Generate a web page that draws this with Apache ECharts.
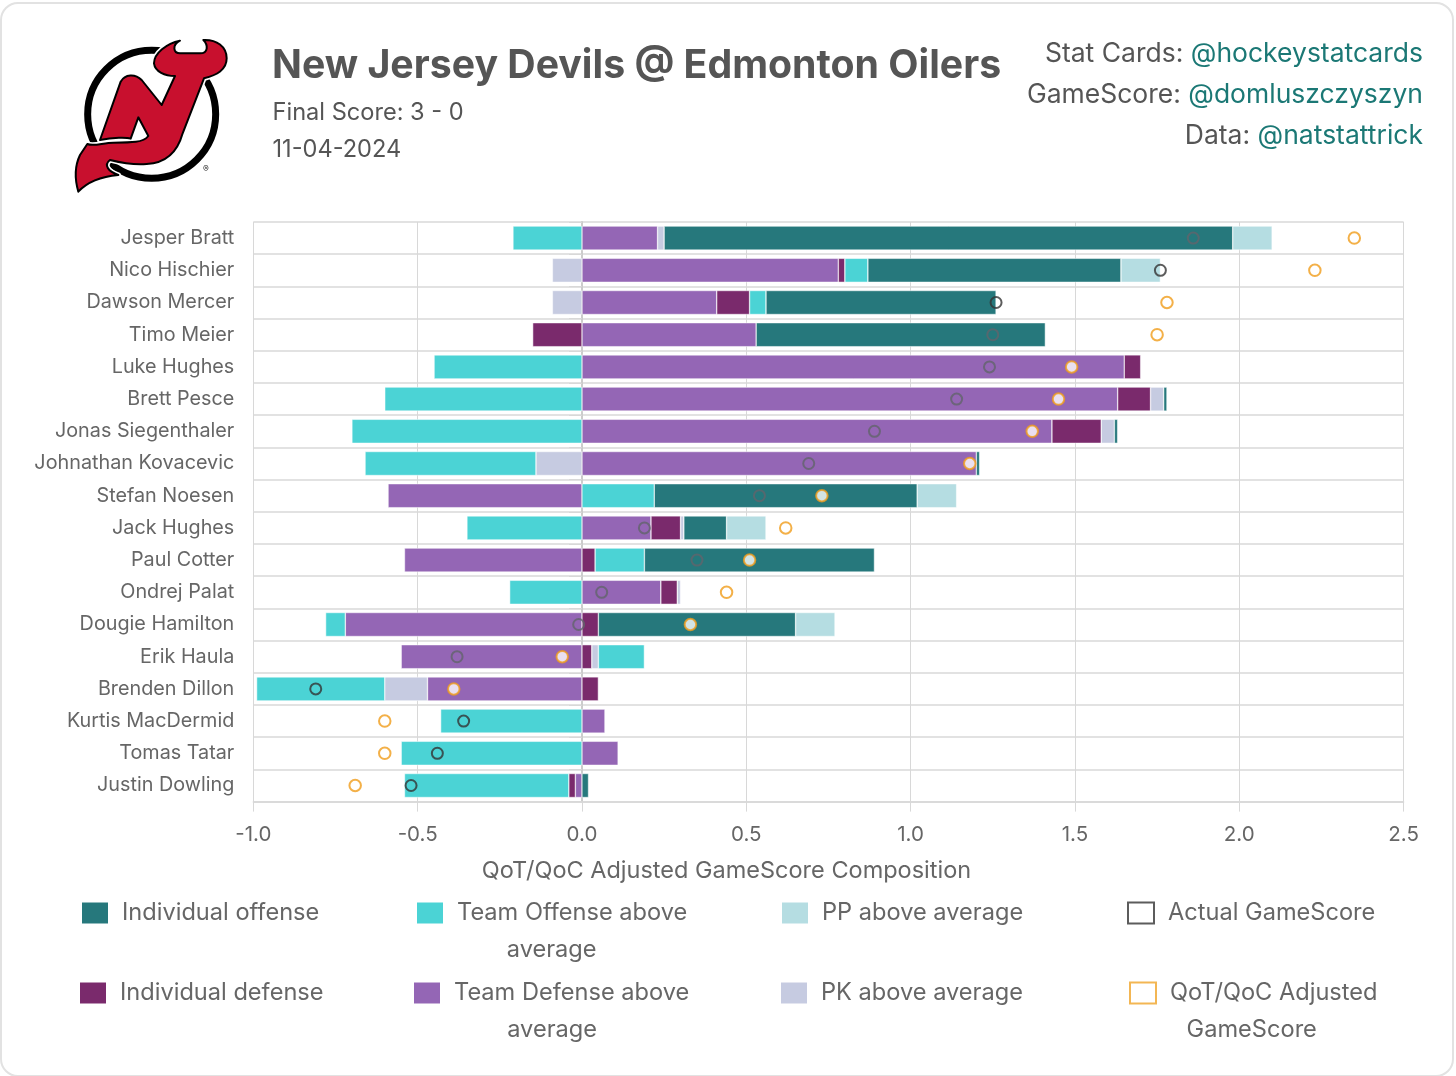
<!DOCTYPE html>
<html lang="en">

<head>
	<title>New Jersey Devils @ Edmonton Oilers</title>
	<meta charset="UTF-8" />
	<script src="https://cdn.jsdelivr.net/npm/echarts@6/dist/echarts.min.js"></script>

	<style type="text/css">
		html, body {
			margin: 0;
			padding: 0;
			width: 1456px;
			height: 1076px;
			overflow: hidden;
			background-color: #ffffff;
			font-family: Inter, sans-serif;
			color: #555555;
		}

		#card {
			position: absolute;
			left: 0;
			top: 2px;
			width: 1450px;
			height: 1071px;
			border: 2px solid #e2e2e2;
			border-radius: 18px;
		}

		#chart {
			position: absolute;
			left: 0;
			top: 0;
			width: 1456px;
			height: 1076px;
		}

		#logo {
			position: absolute;
			left: 0;
			top: 0;
		}

		#title {
			position: absolute;
			left: 272px;
			top: 39px;
			font-size: 39.25px;
			line-height: 50px;
			font-weight: 700;
			white-space: nowrap;
		}

		.sub {
			position: absolute;
			left: 272.5px;
			font-size: 23.6px;
			line-height: 30px;
			white-space: nowrap;
		}

		.credit {
			position: absolute;
			right: 33px;
			font-size: 26.5px;
			line-height: 34px;
			white-space: nowrap;
		}

		.credit span {
			color: #1b7875;
		}
	</style>
</head>

<body>
	<div id="card"></div>
	<div id="chart"></div>

	<!-- logo -->
	<svg id="logo" width="300" height="210" viewBox="0 0 900 630">
		<defs>
			<path id="devil" d="M540 122 C500 130 462 160 462 190 C465 215 495 228 525 228 L485 315 L425 240 C405 220 375 222 362 245 L300 420 C340 412 380 412 392 416 L415 352 L445 408 C430 428 395 428 340 428 C310 428 280 440 262 432 L240 465 C228 490 222 530 235 575 C260 548 300 530 355 525 C325 515 310 495 330 480 C370 490 405 495 440 492 C490 490 530 465 548 400 L612 235 C650 225 680 210 680 175 C680 140 650 118 610 120 C625 135 625 160 600 160 L540 160 C520 160 515 135 540 122 Z" />
		</defs>
		<circle cx="455" cy="343" r="192" fill="#ffffff" stroke="#000000" stroke-width="21" />
		<use href="#devil" fill="#c8102e" stroke="#ffffff" stroke-width="16" stroke-linejoin="round" />
		<use href="#devil" fill="#c8102e" stroke="#000000" stroke-width="6" stroke-linejoin="round" />
		<text x="618" y="517" font-size="26" text-anchor="middle" fill="#222222">®</text>
	</svg>

	<!-- header -->
	<div id="title">New Jersey Devils @ Edmonton Oilers</div>
	<div class="sub" style="top: 97px;">Final Score: 3 - 0</div>
	<div class="sub" style="top: 134px;">11-04-2024</div>
	<div class="credit" style="top: 35px;">Stat Cards: <span>@hockeystatcards</span></div>
	<div class="credit" style="top: 76px;">GameScore: <span>@domluszczyszyn</span></div>
	<div class="credit" style="top: 117px;">Data: <span>@natstattrick</span></div>

	<script>
		const players = ['Jesper Bratt', 'Nico Hischier', 'Dawson Mercer', 'Timo Meier', 'Luke Hughes', 'Brett Pesce',
			'Jonas Siegenthaler', 'Johnathan Kovacevic', 'Stefan Noesen', 'Jack Hughes', 'Paul Cotter', 'Ondrej Palat',
			'Dougie Hamilton', 'Erik Haula', 'Brenden Dillon', 'Kurtis MacDermid', 'Tomas Tatar', 'Justin Dowling'];

		const teamDefense = [0.23, 0.78, 0.41, 0.53, 1.65, 1.63, 1.43, 1.20, -0.59, 0.21, -0.54, 0.24, -0.72, -0.55, -0.47, 0.07, 0.11, -0.02];
		const individualDefense = [null, 0.02, 0.10, -0.15, 0.05, 0.10, 0.15, null, null, 0.09, 0.04, 0.05, 0.05, 0.03, 0.05, null, null, -0.02];
		const pkAboveAverage = [0.02, -0.09, -0.09, null, null, 0.04, 0.04, -0.14, null, 0.01, null, 0.01, null, 0.02, -0.13, null, null, null];
		const teamOffense = [-0.21, 0.07, 0.05, null, -0.45, -0.60, -0.70, -0.52, 0.22, -0.35, 0.15, -0.22, -0.06, 0.14, -0.39, -0.43, -0.55, -0.50];
		const individualOffense = [1.73, 0.77, 0.70, 0.88, null, 0.01, 0.01, 0.01, 0.80, 0.13, 0.70, null, 0.60, null, null, null, null, 0.02];
		const ppAboveAverage = [0.12, 0.12, null, null, null, null, null, null, 0.12, 0.12, null, null, 0.12, null, null, null, null, null];
		const actualGameScore = [1.86, 1.76, 1.26, 1.25, 1.24, 1.14, 0.89, 0.69, 0.54, 0.19, 0.35, 0.06, -0.01, -0.38, -0.81, -0.36, -0.44, -0.52];
		const adjustedGameScore = [2.35, 2.23, 1.78, 1.75, 1.49, 1.45, 1.37, 1.18, 0.73, 0.62, 0.51, 0.44, 0.33, -0.06, -0.39, -0.60, -0.60, -0.69];

		const axisColor = '#666666';
		const gridColor = '#d8d8d8';
		const legendFont = 23.6;
		const legendLine = 37;

		// 堆疊順序: 由 0 往外
		const stackOrder = [
			{ name: 'Team Defense above average', values: teamDefense, color: '#9466b5' },
			{ name: 'Individual defense', values: individualDefense, color: '#7a2a6c' },
			{ name: 'PK above average', values: pkAboveAverage, color: '#c6cbe1' },
			{ name: 'Team Offense above average', values: teamOffense, color: '#4bd3d5' },
			{ name: 'Individual offense', values: individualOffense, color: '#26787c' },
			{ name: 'PP above average', values: ppAboveAverage, color: '#b5dde2' }
		];

		// actual 圈圈壓在長條上時顏色較淡 (cyan 除外)
		function actualColor(i) {
			let pos = 0, neg = 0, dim = false;
			stackOrder.forEach((s) => {
				const v = s.values[i];
				if (v === null) return;
				const from = v > 0 ? pos : neg;
				const to = from + v;
				if (actualGameScore[i] > Math.min(from, to) + 0.001 && actualGameScore[i] < Math.max(from, to) - 0.001) {
					dim = s.values !== teamOffense;
				}
				if (v > 0) pos = to; else neg = to;
			});
			return dim ? '#62646c' : '#333333';
		}

		const barSeries = stackOrder.map((s) => ({
			name: s.name,
			type: 'bar',
			stack: 'composition',
			barWidth: 24,
			data: s.values,
			itemStyle: { color: s.color, borderColor: '#ffffff', borderWidth: 0.5 }
		}));

		function legendItem(name, left, top, color, text, second, secondPad, border) {
			const padLeft = 9;
			return {
				data: [{
					name: name,
					icon: 'rect',
					itemStyle: border ? { color: '#ffffff', borderColor: border, borderWidth: 2 } : { color: color, borderWidth: 0 }
				}],
				left: left,
				top: top,
				padding: 0,
				itemWidth: 26,
				itemHeight: 21,
				selectedMode: false,
				formatter: () => second ? `{a|${text}}\n{b|${second}}` : `{a|${text}}`,
				textStyle: {
					color: axisColor,
					rich: {
						a: { fontFamily: 'Inter', fontSize: legendFont, color: axisColor, lineHeight: legendLine, padding: [0, 0, 0, padLeft] },
						b: { fontFamily: 'Inter', fontSize: legendFont, color: axisColor, lineHeight: legendLine, align: 'center', padding: [0, secondPad, 0, 0] }
					},
					padding: second ? [legendLine, 0, 0, 0] : 0
				}
			};
		}

		const chart = echarts.init(document.getElementById('chart'));

		chart.setOption({
			animation: false,
			textStyle: { fontFamily: 'Inter' },
			grid: { left: 253.3, top: 222, right: 52.4, height: 579.6 },
			xAxis: {
				type: 'value',
				min: -1,
				max: 2.5,
				interval: 0.5,
				name: 'QoT/QoC Adjusted GameScore Composition',
				nameLocation: 'middle',
				nameGap: 57,
				nameTextStyle: { fontFamily: 'Inter', fontSize: 23.5, color: axisColor, padding: [0, 204, 0, 0] },
				axisLine: { show: true, lineStyle: { color: gridColor, width: 1.5 } },
				axisTick: { show: true, length: 10, lineStyle: { color: gridColor } },
				axisLabel: { fontFamily: 'Inter', fontSize: 20.5, color: axisColor, margin: 23, formatter: (v) => v.toFixed(1) },
				splitLine: { show: true, lineStyle: { color: gridColor, width: 1 } }
			},
			yAxis: {
				type: 'category',
				inverse: true,
				data: players,
				axisLine: { show: true, lineStyle: { color: '#cccccc', width: 2 } },
				axisTick: { show: true, length: 13, lineStyle: { color: gridColor } },
				axisLabel: { fontFamily: 'Inter', fontSize: 19.8, color: axisColor, margin: 19, interval: 0, padding: [2, 0, 0, 0] },
				splitLine: { show: true, interval: 0, lineStyle: { color: gridColor, width: 1.5 } }
			},
			legend: [
				legendItem('Individual offense', 82, 901, '#26787c', 'Individual offense'),
				legendItem('Team Offense above average', 417, 901, '#4bd3d5', 'Team Offense above', 'average', 32),
				legendItem('PP above average', 782, 901, '#b5dde2', 'PP above average'),
				legendItem('Actual GameScore', 1127, 901, null, 'Actual GameScore', null, 0, '#333333'),
				legendItem('Individual defense', 80, 981, '#7a2a6c', 'Individual defense'),
				legendItem('Team Defense above average', 414, 981, '#9466b5', 'Team Defense above', 'average', 30),
				legendItem('PK above average', 781, 981, '#c6cbe1', 'PK above average'),
				legendItem('QoT/QoC Adjusted GameScore', 1129, 981, null, 'QoT/QoC Adjusted', 'GameScore', 35, '#f0a428')
			],
			series: barSeries.concat([
				{
					name: 'Actual GameScore',
					type: 'scatter',
					symbolSize: 11,
					z: 5,
					data: actualGameScore.map((v, i) => ({
						value: [v, players[i]],
						itemStyle: { borderColor: actualColor(i) }
					})),
					itemStyle: { color: 'rgba(0,0,0,0)', borderColor: '#333333', borderWidth: 2 }
				},
				{
					name: 'QoT/QoC Adjusted GameScore',
					type: 'scatter',
					symbolSize: 11.5,
					z: 6,
					data: adjustedGameScore.map((v, i) => [v, players[i]]),
					itemStyle: { color: '#ffffff', borderColor: '#f09c1a', borderWidth: 2 }
				}
			])
		});
	</script>
</body>

</html>
